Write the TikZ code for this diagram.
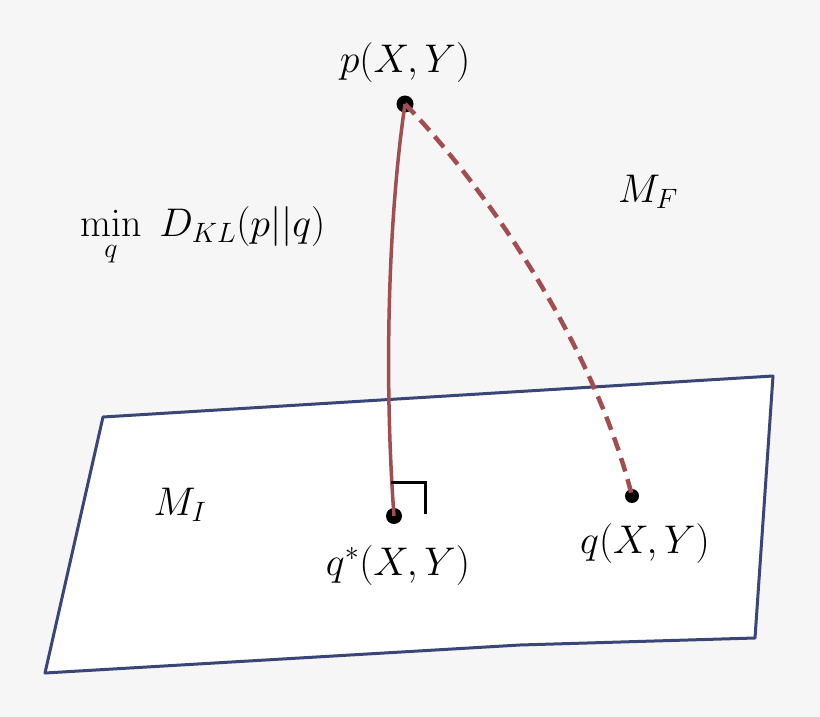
\RequirePackage{fix-cm}
\documentclass[tikz,border=0pt]{standalone}
\usepackage{amsmath}
\begin{document}
\begin{tikzpicture}[x=1pt,y=-1pt,
  dot/.style={circle,fill=black,inner sep=0pt,minimum size=#1},
  lab/.style={inner sep=0pt,font=\fontsize{40}{46}\selectfont},
  plane/.style={draw=planeblue,line width=3pt,fill=white,line join=round},
  arc/.style={draw=arcred,line width=3.5pt},
]
\definecolor{bg}{HTML}{F6F6F6}
\definecolor{planeblue}{HTML}{3A4677}
\definecolor{arcred}{HTML}{A24E50}
\fill[bg] (0,0) rectangle (820,717);
\useasboundingbox (0,0) rectangle (820,717);
\draw[plane] (103,417) -- (773,376) -- (755,638) -- (520,645) -- (45,673) -- cycle;
\node[dot=17pt] (p) at (405,104) {};
\node[dot=16pt] (qs) at (394,516) {};
\node[dot=14pt] (q) at (632,496) {};
\draw[arc] (p.center) .. controls (388,220) and (384,380) .. (qs.center);
\draw[arc,line width=4.5pt,dash pattern=on 14pt off 8pt] (p.center) .. controls (470,170) and (590,330) .. (q.center);
\coordinate (ra1) at (391,482);
\coordinate (ra2) at (425,482);
\coordinate (ra3) at (425,514);
\draw[line width=3pt] (ra1) -- (ra2) -- (ra3);
\node[lab] (lp) at (405,63) {$p(X,Y)$};
\node[lab] (lqs) at (398,565) {$q^*(X,Y)$};
\node[lab] (lq) at (645,543) {$q(X,Y)$};
\node[lab] (mf) at (648,192) {$M_F$};
\node[lab] (mi) at (180,505) {$M_I$};
\node[lab,anchor=west] (kl) at (80,236) {$\min\limits_{\raisebox{-6pt}{$\scriptstyle q$}}\; D_{KL}(p||q)$};
\end{tikzpicture}
\end{document}
